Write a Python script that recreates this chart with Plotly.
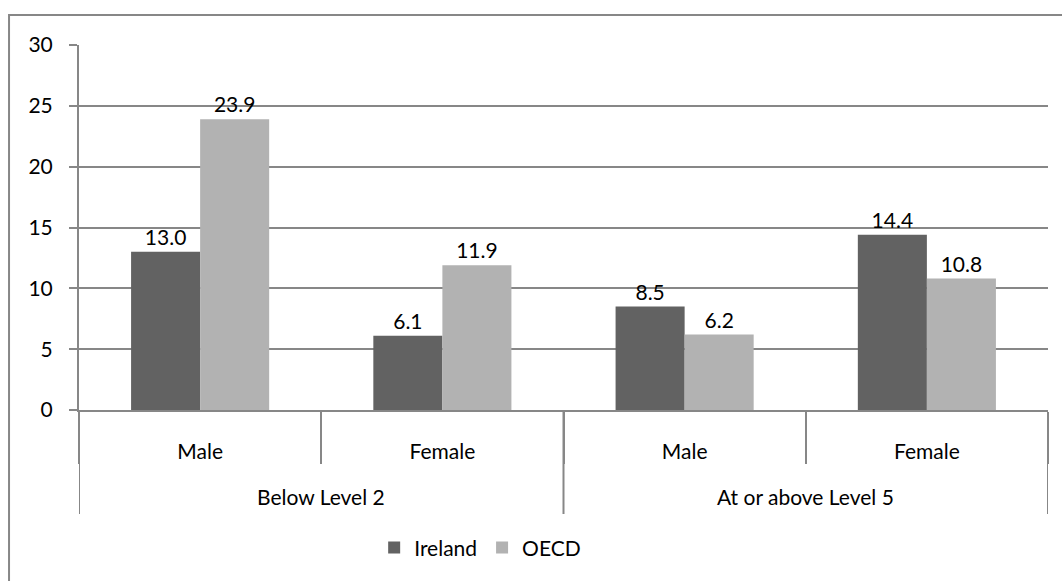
import plotly.graph_objects as go

# proficiency levels and gender sub-groups
levels = ["Below Level 2", "Below Level 2", "At or above Level 5", "At or above Level 5"]
genders = ["Male", "Female", "Male", "Female"]
ireland = [13.0, 6.1, 8.5, 14.4]
oecd = [23.9, 11.9, 6.2, 10.8]

font = "Lato, 'Open Sans', sans-serif"
grid = "#878787"
fsize = 21

pos = list(range(len(genders)))          # one slot per gender bar pair
group_names = list(dict.fromkeys(levels))
group_idx = {g: [i for i, l in enumerate(levels) if l == g] for g in group_names}

fig = go.Figure()
fig.add_trace(go.Bar(x=pos, y=ireland, name="Ireland",
                     marker=dict(color="#626262", line=dict(width=0)),
                     texttemplate="%{y:.1f}", textposition="outside",
                     textfont=dict(size=fsize, color="black"), cliponaxis=False))
fig.add_trace(go.Bar(x=pos, y=oecd, name="OECD",
                     marker=dict(color="#b2b2b2", line=dict(width=0)),
                     texttemplate="%{y:.1f}", textposition="outside",
                     textfont=dict(size=fsize, color="black"), cliponaxis=False))

# group labels + long dividers between level groups
annotations = []
shapes = []
for g in group_names:
    idx = group_idx[g]
    annotations.append(dict(x=sum(idx) / len(idx), y=-0.238, xref="x", yref="paper",
                            text=g, showarrow=False, yanchor="middle",
                            font=dict(size=fsize, color="black")))
    shapes.append(dict(type="line", xref="x", yref="paper", x0=idx[0] - 0.5, x1=idx[0] - 0.5,
                       y0=0, y1=-0.285, line=dict(color=grid, width=2)))
shapes.append(dict(type="line", xref="x", yref="paper", x0=pos[-1] + 0.5, x1=pos[-1] + 0.5,
                   y0=0, y1=-0.285, line=dict(color=grid, width=2)))
# outer chart border (right and bottom edges fall outside the picture)
shapes.append(dict(type="rect", xref="paper", yref="paper",
                   x0=-0.0722, x1=1.03, y0=-0.5, y1=1.082,
                   line=dict(color=grid, width=2)))

fig.update_layout(
    width=1062, height=581,
    barmode="group", bargap=0.43, bargroupgap=0,
    plot_bgcolor="white", paper_bgcolor="white",
    font=dict(family=font, size=fsize, color="black"),
    margin=dict(l=79, r=14, t=45, b=171),
    showlegend=True,
    legend=dict(orientation="h", x=0.414, xanchor="center", y=-0.378, yanchor="middle",
                font=dict(size=fsize), itemwidth=30, traceorder="normal"),
    xaxis=dict(range=[-0.5, len(genders) - 0.5], tickvals=pos, ticktext=genders,
               showline=True, linecolor=grid, linewidth=2, showgrid=False, zeroline=False,
               ticks="", ticklabelstandoff=22,
               minor=dict(tickvals=[p - 0.5 for p in pos] + [pos[-1] + 0.5], ticks="outside",
                          ticklen=52, tickcolor=grid, tickwidth=2, showgrid=False),
               tickfont=dict(size=fsize), automargin=False),
    yaxis=dict(range=[0, 30], dtick=5, showgrid=True, gridcolor=grid, gridwidth=2,
               showline=True, linecolor=grid, linewidth=2, zeroline=False,
               ticks="outside", ticklen=8, tickcolor=grid, tickwidth=2,
               ticklabelstandoff=12,
               tickfont=dict(size=fsize), automargin=False),
    annotations=annotations,
    shapes=shapes,
)

fig.write_html("out.html", config={"displayModeBar": False},
               post_script="document.body.style.margin='0';")
